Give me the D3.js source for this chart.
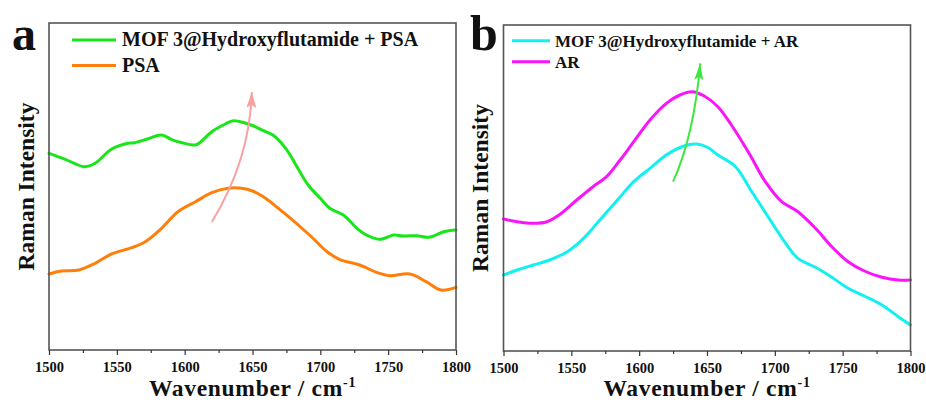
<!DOCTYPE html>
<html>
<head>
<meta charset="utf-8">
<script src="https://cdn.jsdelivr.net/npm/d3@7"></script>
<style>
  html, body { margin: 0; padding: 0; background: #fff; }
  svg { display: block; }
  text { font-family: "Liberation Serif", "Times New Roman", serif; font-weight: bold; fill: #111; }
</style>
</head>
<body>
<svg id="chart" width="926" height="405"></svg>
<script>
// Raman spectra, wavenumber (cm-1) vs intensity (a.u.)
const xTicks = [1500, 1550, 1600, 1650, 1700, 1750, 1800];
const xMinorTicks = [1525, 1575, 1625, 1675, 1725, 1775];

// Panel a
const mofPsaWavenumber = [1500, 1512, 1526, 1534, 1546, 1558, 1563, 1573, 1583, 1590, 1598, 1608, 1612, 1620, 1630, 1636, 1644, 1650, 1658, 1665, 1675, 1682, 1691, 1700, 1707, 1717, 1727, 1734, 1744, 1754, 1761, 1771, 1780, 1791, 1800];
const mofPsaIntensity  = [1967, 1907, 1833, 1867, 2007, 2067, 2073, 2113, 2150, 2107, 2073, 2050, 2083, 2183, 2260, 2293, 2273, 2245, 2193, 2150, 2007, 1850, 1650, 1517, 1417, 1350, 1217, 1150, 1107, 1150, 1140, 1143, 1127, 1183, 1200];

const psaWavenumber = [1500, 1509, 1522, 1534, 1546, 1561, 1571, 1583, 1595, 1608, 1620, 1632, 1642, 1650, 1658, 1673, 1692, 1705, 1714, 1729, 1742, 1751, 1766, 1778, 1789, 1800];
const psaIntensity  = [760, 790, 800, 867, 960, 1023, 1083, 1217, 1383, 1483, 1573, 1617, 1617, 1590, 1533, 1373, 1150, 983, 907, 850, 773, 743, 760, 683, 600, 627];

// Panel b
const mofArWavenumber = [1500, 1510, 1522, 1534, 1547, 1559, 1571, 1584, 1596, 1608, 1620, 1633, 1642, 1650, 1658, 1671, 1683, 1695, 1708, 1717, 1730, 1742, 1754, 1766, 1779, 1791, 1800];
const mofArIntensity  = [760, 810, 860, 910, 993, 1127, 1310, 1510, 1693, 1827, 1960, 2050, 2070, 2040, 1960, 1843, 1593, 1343, 1077, 927, 837, 737, 627, 550, 460, 343, 260];

const arWavenumber = [1500, 1510, 1522, 1532, 1542, 1554, 1566, 1576, 1586, 1596, 1608, 1620, 1630, 1639, 1648, 1658, 1668, 1681, 1693, 1705, 1717, 1730, 1742, 1754, 1766, 1779, 1791, 1800];
const arIntensity  = [1320, 1293, 1277, 1293, 1370, 1510, 1643, 1743, 1910, 2093, 2310, 2477, 2560, 2593, 2550, 2443, 2260, 1977, 1693, 1493, 1393, 1227, 1043, 893, 800, 737, 710, 710];

// Trend arrows: [start, control, tip] as [wavenumber, intensity]
const arrowA = [[1620, 1280], [1648, 1900], [1649.5, 2580]];
const arrowB = [[1625, 1693], [1640.5, 2160], [1645, 2877]];

const panels = [
  {
    letter: "a", box: {left: 49, right: 456, top: 23, bottom: 350}, yMax: 3270,
    letterPos: [12, 50], letterSize: 48,
    yTitleX: 34,
    legend: {x1: 72, x2: 116, textX: 122, rows: [40, 65.5], size: 20},
    series: [
      {name: "MOF 3@Hydroxyflutamide + PSA", x: mofPsaWavenumber, y: mofPsaIntensity, color: "#19e619"},
      {name: "PSA", x: psaWavenumber, y: psaIntensity, color: "#ff7f0a"}
    ],
    arrow: arrowA, arrowColor: "#f7a1a1", head: [16, 10]
  },
  {
    letter: "b", box: {left: 503.5, right: 910.5, top: 25, bottom: 351}, yMax: 3260,
    letterPos: [470, 50], letterSize: 50,
    yTitleX: 488,
    legend: {x1: 512, x2: 550, textX: 555, rows: [40.7, 61.7], size: 17},
    series: [
      {name: "MOF 3@Hydroxyflutamide + AR", x: mofArWavenumber, y: mofArIntensity, color: "#12f0f0"},
      {name: "AR", x: arWavenumber, y: arIntensity, color: "#fa14fa"}
    ],
    arrow: arrowB, arrowColor: "#3fe63f", head: [17, 9]
  }
];

const svg = d3.select("#chart");
const defs = svg.append("defs");

panels.forEach((p, i) => {
  const {left, right, top, bottom} = p.box;
  const x = d3.scaleLinear().domain([1500, 1800]).range([left, right]);
  const y = d3.scaleLinear().domain([0, p.yMax]).range([bottom, top]);
  const g = svg.append("g");

  // spectra
  const line = d3.line().x(d => x(d[0])).y(d => y(d[1])).curve(d3.curveCatmullRom.alpha(0.5));
  p.series.forEach(s => {
    g.append("path")
      .datum(s.x.map((v, k) => [v, s.y[k]]))
      .attr("d", line)
      .attr("fill", "none")
      .attr("stroke", s.color)
      .attr("stroke-width", 3)
      .attr("stroke-linejoin", "round")
      .attr("stroke-linecap", "round");
  });

  // trend arrow
  const [hl, hw] = p.head;
  defs.append("marker")
    .attr("id", "head" + i)
    .attr("markerUnits", "userSpaceOnUse")
    .attr("viewBox", `0 ${-hw / 2} ${hl} ${hw}`)
    .attr("refX", hl).attr("refY", 0)
    .attr("markerWidth", hl).attr("markerHeight", hw)
    .attr("orient", "auto")
    .append("path")
    .attr("d", `M0,${-hw / 2}L${hl},0L0,${hw / 2}L${hl * 0.2},0Z`)
    .attr("fill", p.arrowColor);
  const [a0, a1, a2] = p.arrow;
  const ap = d3.path();
  ap.moveTo(x(a0[0]), y(a0[1]));
  ap.quadraticCurveTo(x(a1[0]), y(a1[1]), x(a2[0]), y(a2[1]));
  g.append("path")
    .attr("d", ap.toString())
    .attr("fill", "none")
    .attr("stroke", p.arrowColor)
    .attr("stroke-width", 2)
    .attr("marker-end", `url(#head${i})`);

  // frame
  g.append("rect")
    .attr("x", left).attr("y", top)
    .attr("width", right - left).attr("height", bottom - top)
    .attr("fill", "none").attr("stroke", "#555").attr("stroke-width", 1.6);

  // bottom axis
  const axis = g.append("g").attr("transform", `translate(0,${bottom})`)
    .call(d3.axisBottom(x).tickValues(xTicks).tickFormat(d3.format("d")).tickSize(5).tickPadding(7));
  axis.select(".domain").remove();
  axis.selectAll(".tick line").attr("stroke", "#333").attr("stroke-width", 1.2);
  axis.selectAll(".tick text")
    .attr("font-family", "'Liberation Serif', 'Times New Roman', serif")
    .attr("font-weight", "bold").attr("font-size", 14.5).attr("fill", "#111");
  const minor = g.append("g").attr("transform", `translate(0,${bottom})`)
    .call(d3.axisBottom(x).tickValues(xMinorTicks).tickFormat("").tickSize(3));
  minor.select(".domain").remove();
  minor.selectAll(".tick line").attr("stroke", "#333").attr("stroke-width", 1.2);

  // axis titles
  const xt = g.append("text")
    .attr("x", (left + right) / 2).attr("y", 396)
    .attr("text-anchor", "middle").attr("font-size", 23.5)
    .attr("letter-spacing", 0.7);
  xt.append("tspan").text("Wavenumber / cm");
  xt.append("tspan").attr("dy", -9).attr("font-size", 14).text("-1");

  g.append("text")
    .attr("transform", `translate(${p.yTitleX},${(top + bottom) / 2}) rotate(-90)`)
    .attr("text-anchor", "middle").attr("font-size", 23.5)
    .text("Raman Intensity");

  // panel letter
  g.append("text")
    .attr("x", p.letterPos[0]).attr("y", p.letterPos[1])
    .attr("font-size", p.letterSize)
    .text(p.letter);

  // legend
  p.series.forEach((s, k) => {
    const ly = p.legend.rows[k];
    g.append("line")
      .attr("x1", p.legend.x1).attr("x2", p.legend.x2)
      .attr("y1", ly).attr("y2", ly)
      .attr("stroke", s.color).attr("stroke-width", 3);
    g.append("text")
      .attr("x", p.legend.textX).attr("y", ly + 6)
      .attr("font-size", p.legend.size)
      .text(s.name);
  });
});
</script>
</body>
</html>
